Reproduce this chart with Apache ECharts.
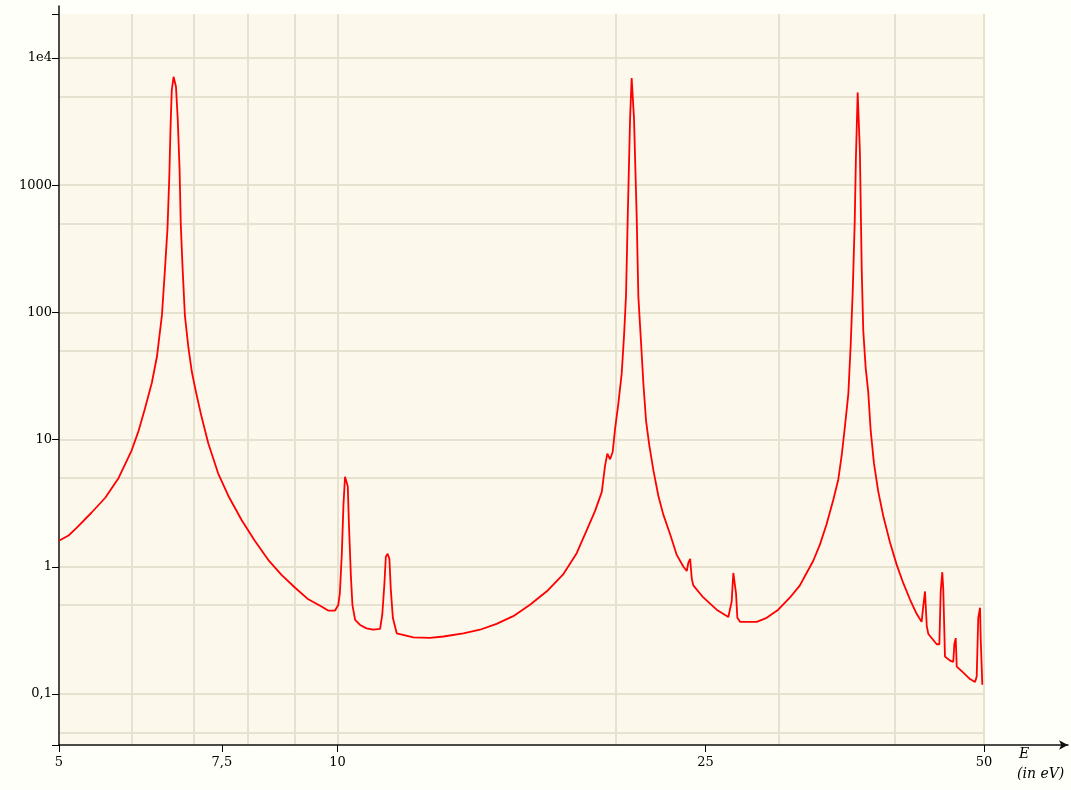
<!DOCTYPE html>
<html><head><meta charset="utf-8">
<script src="https://cdn.jsdelivr.net/npm/echarts@6/dist/echarts.min.js"></script>
<style>html,body{margin:0;padding:0;background:#fffffa}#c{width:1071px;height:790px}</style>
</head><body><div id="c"></div>
<script>
// Energy (eV) and cross-section values
const energies = [
  5.00, 5.12, 5.25, 5.42, 5.61, 5.80, 5.99, 6.09, 6.19, 6.30, 6.38, 6.46, 6.51, 6.55, 6.58, 6.60, 6.62, 6.65, 6.69, 6.72,
  6.75, 6.77, 6.80, 6.84, 6.90, 6.96, 7.04, 7.13, 7.25, 7.43, 7.62, 7.88, 8.14, 8.42, 8.70, 9.00, 9.30, 9.62, 9.77, 9.94,
  10.02, 10.06, 10.11, 10.15, 10.19, 10.21, 10.26, 10.29, 10.34, 10.38, 10.45, 10.58, 10.75, 10.93, 11.12, 11.18, 11.24, 11.28, 11.33, 11.38,
  11.42, 11.48, 11.59, 12.08, 12.59, 13.02, 13.68, 14.26, 14.86, 15.49, 16.15, 16.84, 17.55, 18.14, 18.60, 18.99, 19.31, 19.47, 19.58, 19.71,
  19.84, 19.96, 20.12, 20.29, 20.41, 20.51, 20.60, 20.72, 20.80, 20.87, 20.92, 21.06, 21.15, 21.28, 21.42, 21.56, 21.74, 21.96, 22.23, 22.51,
  22.89, 23.27, 23.66, 23.86, 23.95, 24.06, 24.16, 24.25, 24.86, 25.70, 26.46, 26.68, 26.79, 26.88, 26.97, 27.06, 27.24, 28.40, 29.11, 29.96,
  30.85, 31.62, 32.15, 32.69, 33.24, 33.79, 34.36, 34.79, 35.09, 35.37, 35.67, 35.88, 36.06, 36.24, 36.35, 36.51, 36.66, 36.71, 36.88, 37.02,
  37.24, 37.48, 37.71, 38.02, 38.43, 38.91, 39.57, 40.23, 40.90, 41.59, 42.28, 42.81, 42.99, 43.17, 43.36, 43.53, 44.45, 44.74, 44.89, 45.07,
  45.18, 45.37, 45.94, 46.32, 46.44, 46.60, 46.72, 47.49, 48.29, 48.90, 49.10, 49.29, 49.51, 49.59, 49.75, 49.79
];
const crossSections = [
  1.60, 1.76, 2.10, 2.66, 3.49, 5.0, 8.2, 11.5, 17.3, 28, 44.8, 94.7, 222, 454, 1175, 2840, 5540, 7120, 5940, 3270,
  1345, 500, 229, 94.7, 53, 34, 22.7, 15.1, 9.35, 5.43, 3.62, 2.32, 1.60, 1.13, 0.865, 0.684, 0.555, 0.485, 0.453, 0.453,
  0.50, 0.62, 1.28, 3.04, 5.1, 5.2, 4.3, 2.15, 0.845, 0.50, 0.382, 0.349, 0.328, 0.320, 0.325, 0.42, 0.735, 1.20, 1.265, 1.155,
  0.665, 0.395, 0.300, 0.279, 0.276, 0.283, 0.300, 0.320, 0.356, 0.409, 0.503, 0.642, 0.876, 1.28, 1.94, 2.75, 3.88, 6.3, 7.75, 7.0,
  8.0, 12.2, 19.1, 33, 66, 136, 584, 3400, 6960, 6960, 3400, 584, 133, 62, 27, 14, 8.9, 5.7, 3.6, 2.56,
  1.80, 1.24, 1.00, 0.927, 1.075, 1.155, 0.80, 0.715, 0.574, 0.46, 0.403, 0.534, 0.894, 0.894, 0.618, 0.397, 0.369, 0.369, 0.397, 0.46,
  0.574, 0.715, 0.894, 1.115, 1.50, 2.16, 3.37, 4.86, 7.57, 12.7, 22.9, 55.7, 145, 508, 1650, 5350, 5350, 1850, 216, 72,
  37, 23.8, 11.8, 6.5, 3.9, 2.51, 1.55, 1.04, 0.743, 0.553, 0.427, 0.369, 0.495, 0.64, 0.343, 0.296, 0.246, 0.246, 0.64, 0.907,
  0.665, 0.197, 0.183, 0.179, 0.246, 0.275, 0.164, 0.147, 0.131, 0.124, 0.137, 0.397, 0.477, 0.275, 0.275, 0.118
];
const xTickValues = [5, 7.5, 10, 25, 50];
const xTickLabels = ['5', '7,5', '10', '25', '50'];
const xGridValues = [6, 7, 8, 9, 10, 20, 30, 40, 50];
const yTickValues = [0.1, 1, 10, 100, 1000, 10000];
const yTickLabels = ['0,1', '1', '10', '100', '1000', '1e4'];
const yGridValues = [0.05, 0.1, 0.5, 1, 5, 10, 50, 100, 500, 1000, 5000, 10000];
const xRange = [5, 50];
const yRange = [0.0397, 22200];

const L = Math.log10;
const data = energies.map((e, i) => [L(e), L(crossSections[i])]);
function lookup(vals, labels) {
  return v => { for (let j = 0; j < vals.length; j++) if (Math.abs(L(vals[j]) - v) < 1e-6) return labels[j]; return ''; };
}
const font = { fontFamily: 'DejaVu Serif', fontSize: 13, color: '#000' };
const gridColor = '#e7e2d0';

const chart = echarts.init(document.getElementById('c'), null, { renderer: 'canvas' });
chart.setOption({
  backgroundColor: '#fffffa',
  animation: false,
  grid: [
    { left: 59, right: 87, top: 14, bottom: 45, show: true, backgroundColor: '#fcf8ec', borderWidth: 0 },
    { left: 59, right: 3, top: 6, bottom: 45, show: false }
  ],
  xAxis: [
    { type: 'value', gridIndex: 0, min: L(xRange[0]), max: L(xRange[1]), position: 'bottom',
      axisLine: { show: false, onZero: false },
      axisTick: { show: true, length: 7, customValues: xTickValues.map(L), lineStyle: { color: '#000', width: 1 } },
      axisLabel: { show: true, customValues: xTickValues.map(L), formatter: lookup(xTickValues, xTickLabels), margin: 11, ...font },
      splitLine: { show: false } },
    { type: 'value', gridIndex: 0, min: L(xRange[0]), max: L(xRange[1]), position: 'bottom',
      axisLine: { show: false, onZero: false }, axisLabel: { show: false },
      axisTick: { show: false, customValues: xGridValues.map(L) },
      splitLine: { show: true, lineStyle: { color: gridColor, width: 2 } } },
    { type: 'value', gridIndex: 1, min: 0, max: 1, position: 'bottom',
      axisLine: { show: true, onZero: false, symbol: ['none', 'arrow'], symbolSize: [7, 9], lineStyle: { color: '#111', width: 1.5 } },
      axisTick: { show: false }, axisLabel: { show: false }, splitLine: { show: false } }
  ],
  yAxis: [
    { type: 'value', gridIndex: 0, min: L(yRange[0]), max: L(yRange[1]), position: 'left',
      axisLine: { show: false, onZero: false },
      axisTick: { show: true, length: 7, customValues: [L(yRange[0])].concat(yTickValues.map(L), [L(yRange[1])]), lineStyle: { color: '#000', width: 1 } },
      axisLabel: { show: true, customValues: yTickValues.map(L), formatter: lookup(yTickValues, yTickLabels), margin: 7, ...font },
      splitLine: { show: false } },
    { type: 'value', gridIndex: 0, min: L(yRange[0]), max: L(yRange[1]), position: 'left',
      axisLine: { show: false, onZero: false }, axisLabel: { show: false },
      axisTick: { show: false, customValues: yGridValues.map(L) },
      splitLine: { show: true, lineStyle: { color: gridColor, width: 2 } } },
    { type: 'value', gridIndex: 1, min: 0, max: 1, position: 'left',
      axisLine: { show: true, onZero: false, lineStyle: { color: '#111', width: 1.5 } },
      axisTick: { show: false }, axisLabel: { show: false }, splitLine: { show: false } }
  ],
  series: [{
    type: 'line', xAxisIndex: 0, yAxisIndex: 0, data: data, showSymbol: false, symbol: 'none',
    lineStyle: { color: '#ff0000', width: 1.8 }, z: 5
  }],
  graphic: [
    { type: 'text', left: 1019, top: 747, style: { text: 'E', font: 'italic 14px "DejaVu Serif"', fill: '#000' } },
    { type: 'text', left: 1017, top: 767, style: { text: '(in eV)', font: 'italic 14px "DejaVu Serif"', fill: '#000' } }
  ]
});
</script></body></html>
